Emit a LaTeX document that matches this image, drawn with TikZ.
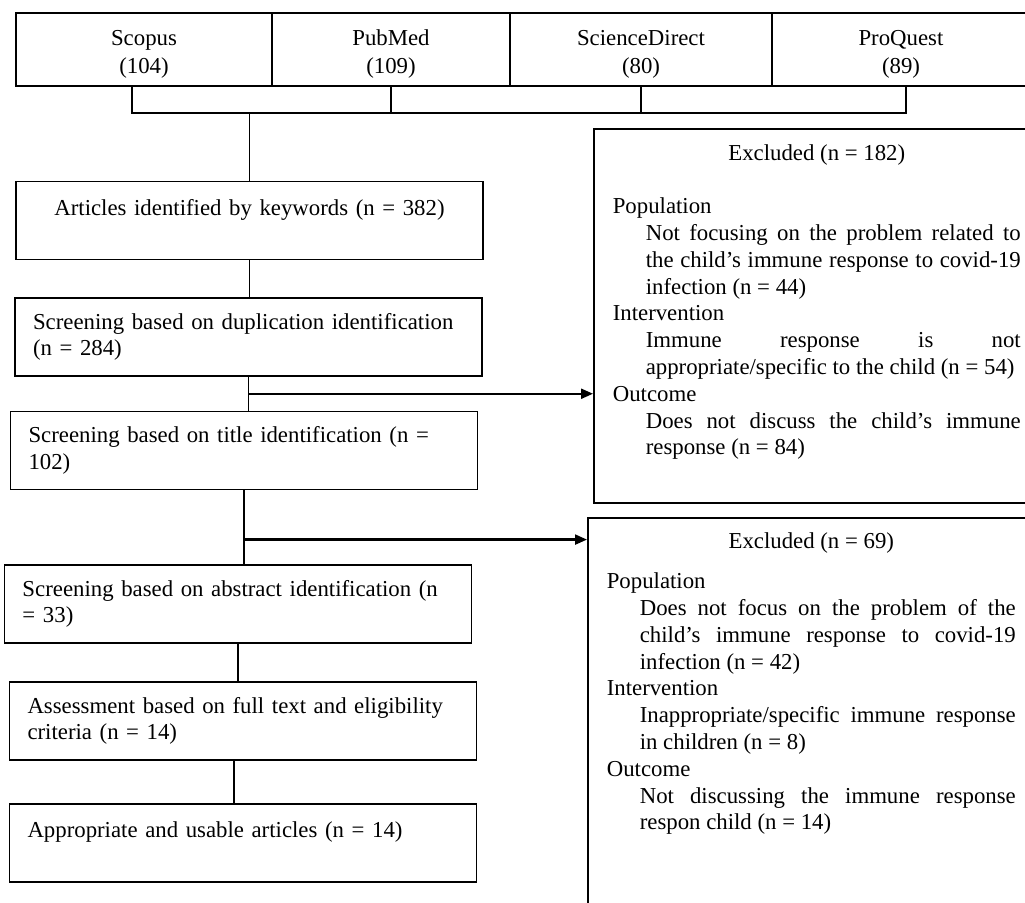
\documentclass[tikz,border=0pt]{standalone}
\usepackage{fontspec}
\setmainfont{Liberation Serif}
\usetikzlibrary{calc,arrows.meta}
\def\jline#1#2{\makebox[#1][s]{#2}}
\def\dbstrut{\rule{0pt}{12.5pt}}

\begin{document}
\begin{tikzpicture}[x=0.5pt,y=-0.5pt,
	every node/.style={font=\fontsize{11.4}{13.4}\selectfont, line width=0.8pt},
	dbbox/.style={draw, align=center, minimum height=36.5pt, inner sep=0pt},
	stage/.style={draw, align=left, text width=215.5pt, inner xsep=9pt, inner ysep=0pt, minimum height=39pt},
	exclbox/.style={draw, anchor=north west, inner sep=0pt},
	exctext/.style={align=left, anchor=base west, inner sep=0pt},
	link/.style={line width=0.7pt},
	outarrow/.style={line width=1.1pt, -{Triangle[length=6pt,width=5pt]}}]
			%%%%% START %%%%%
			\useasboundingbox (0,0) rectangle (1025,903);
			\clip (0,0) rectangle (1025,903);
			
			% databases
			\node[dbbox, minimum width=128pt] (scopus) at (144,49.5) {\dbstrut Scopus\\[1pt](104)};
			\node[dbbox, minimum width=119pt] (pubmed) at (391,49.5) {\dbstrut PubMed\\[1pt](109)};
			\node[dbbox, minimum width=131pt] (scidir) at (641,49.5) {\dbstrut ScienceDirect\\[1pt](80)};
			\node[dbbox, minimum width=129pt] (proquest) at (901,49.5) {\dbstrut ProQuest\\[1pt](89)};
			
			% screening steps
			\node[stage, align=center] (art) at (249.5,220.5) {Articles identified by keywords (n = 382)\\\mbox{}};
			\node[stage] (dup) at (248.5,337) {\mbox{Screening based on duplication identification}\\(n = 284)};
			\node[stage] (tit) at (244,450.5) {Screening based on title identification (n =\\102)};
			\node[stage] (abs) at (238,604) {Screening based on abstract identification (n\\= 33)};
			\node[stage] (ass) at (243,721) {Assessment based on full text and eligibility\\criteria (n = 14)};
			\node[stage] (app) at (243,843) {Appropriate and usable articles (n = 14)\\\mbox{}};
			
			% excluded boxes
			\node[exclbox, minimum width=223.5pt, minimum height=187pt] (exc1) at (593,128) {};
			\node[exclbox, minimum width=226.5pt, minimum height=199pt] (exc2) at (587,517) {};
			
			\node[exctext] (exc1txt) at (612,455) {%
				\makebox[204pt]{Excluded (n = 182)}\\[13.4pt]
				Population\\
				\hspace*{16.5pt}\jline{187.5pt}{Not focusing on the problem related to}\\
				\hspace*{16.5pt}\jline{187.5pt}{the child's immune response to covid-19}\\
				\hspace*{16.5pt}infection (n = 44)\\
				Intervention\\
				\hspace*{16.5pt}\jline{187.5pt}{Immune response is not}\\
				\hspace*{16.5pt}appropriate/specific to the child (n = 54)\\
				Outcome\\
				\hspace*{16.5pt}\jline{187.5pt}{Does not discuss the child's immune}\\
				\hspace*{16.5pt}response (n = 84)};
			
			\node[exctext] (exc2txt) at (606,830) {%
				\makebox[204.5pt]{Excluded (n = 69)}\\[6.6pt]
				Population\\
				\hspace*{16.5pt}\jline{188pt}{Does not focus on the problem of the}\\
				\hspace*{16.5pt}\jline{188pt}{child's immune response to covid-19}\\
				\hspace*{16.5pt}infection (n = 42)\\
				Intervention\\
				\hspace*{16.5pt}\jline{188pt}{Inappropriate/specific immune response}\\
				\hspace*{16.5pt}in children (n = 8)\\
				Outcome\\
				\hspace*{16.5pt}\jline{188pt}{Not discussing the immune response}\\
				\hspace*{16.5pt}respon child (n = 14)};
			
			% bracket joining the databases
			\coordinate (brL) at (132,113);
			\coordinate (brR) at (906,113);
			\draw[link] (brL |- scopus.south) -- (brL) -- (brR) -- (brR |- proquest.south);
			\draw[link] (pubmed.south) -- (pubmed.south |- brL);
			\draw[link] (scidir.south) -- (scidir.south |- brL);
			\draw[link] (art.north |- brL) -- (art.north);
			
			% flow down
			\draw[link] (art.south) -- (art.south |- dup.north);
			\draw[link] (dup.south) -- (dup.south |- tit.north);
			\draw[link] (tit.south) -- (tit.south |- abs.north);
			\draw[link] (abs.south) -- (abs.south |- ass.north);
			\draw[link] ([xshift=-4.5pt]ass.south) -- ([xshift=-4.5pt]ass.south |- app.north);
			
			% exclusions
			\coordinate (j1) at ($(dup.south)!0.5!(dup.south |- tit.north)$);
			\coordinate (j2) at ($(tit.south)!0.667!(tit.south |- abs.north)$);
			\draw[outarrow] (j1) -- (j1 -| exc1.west);
			\draw[outarrow] (j2) -- (j2 -| exc2.west);
			
			%%%%% END %%%%%
\end{tikzpicture}
\end{document}
